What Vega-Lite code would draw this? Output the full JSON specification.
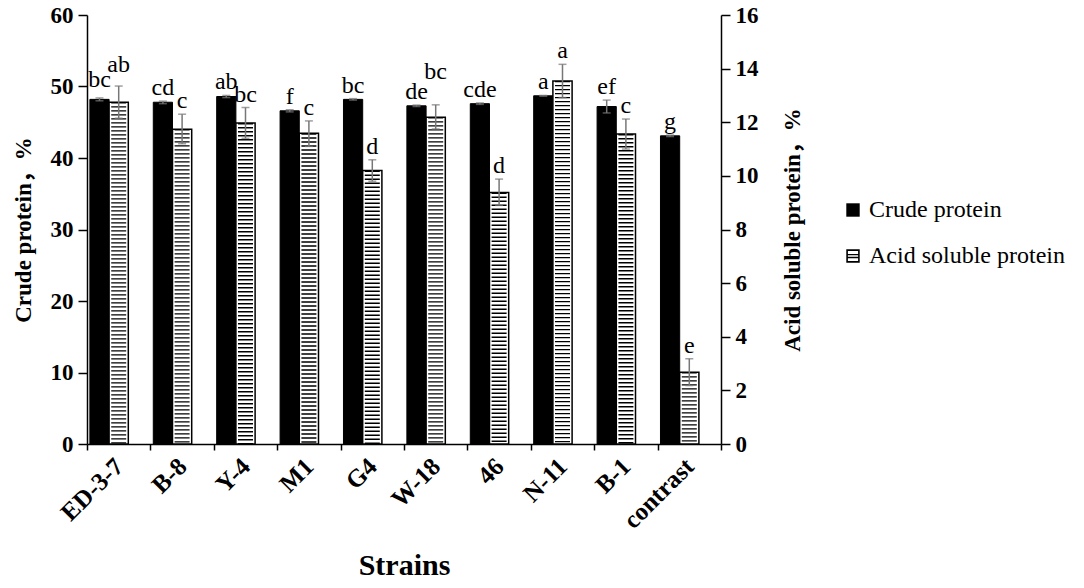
{
  "$schema": "https://vega.github.io/schema/vega-lite/v6.json",
  "width": 634,
  "height": 429,
  "autosize": {"type": "none"},
  "padding": {"left": 87, "top": 15, "right": 363, "bottom": 144},
  "background": "white",
  "config": {
    "view": {"stroke": null},
    "font": "Liberation Serif",
    "axis": {
      "domainColor": "black", "domainWidth": 1.5, "tickColor": "black", "tickWidth": 1.5,
      "grid": false, "labelFont": "Liberation Serif", "labelFontWeight": "bold", "labelFontSize": 23,
      "labelColor": "black", "titleFont": "Liberation Serif, Noto Sans CJK SC", "titleFontWeight": "bold",
      "titleFontSize": 23, "titleColor": "black"
    }
  },
  "datasets": {
    "d": [
      {"strain": "ED-3-7", "series": "Crude protein", "value": 48.2, "lo": 48.0, "hi": 48.4, "label": "bc"},
      {"strain": "B-8", "series": "Crude protein", "value": 47.8, "lo": 47.6, "hi": 47.95, "label": "cd"},
      {"strain": "Y-4", "series": "Crude protein", "value": 48.6, "lo": 48.45, "hi": 48.75, "label": "ab"},
      {"strain": "M1", "series": "Crude protein", "value": 46.6, "lo": 46.45, "hi": 46.75, "label": "f"},
      {"strain": "G4", "series": "Crude protein", "value": 48.2, "lo": 48.1, "hi": 48.3, "label": "bc"},
      {"strain": "W-18", "series": "Crude protein", "value": 47.3, "lo": 47.2, "hi": 47.4, "label": "de"},
      {"strain": "46", "series": "Crude protein", "value": 47.6, "lo": 47.5, "hi": 47.7, "label": "cde"},
      {"strain": "N-11", "series": "Crude protein", "value": 48.7, "lo": 48.65, "hi": 48.75, "label": "a"},
      {"strain": "B-1", "series": "Crude protein", "value": 47.2, "lo": 46.3, "hi": 48.1, "label": "ef"},
      {"strain": "contrast", "series": "Crude protein", "value": 43.1, "lo": 43.0, "hi": 43.2, "label": "g"},
      {"strain": "ED-3-7", "series": "Acid soluble protein", "value": 12.75, "lo": 12.15, "hi": 13.35, "label": "ab"},
      {"strain": "B-8", "series": "Acid soluble protein", "value": 11.74, "lo": 11.2, "hi": 12.3, "label": "c"},
      {"strain": "Y-4", "series": "Acid soluble protein", "value": 11.97, "lo": 11.4, "hi": 12.55, "label": "bc"},
      {"strain": "M1", "series": "Acid soluble protein", "value": 11.59, "lo": 11.1, "hi": 12.05, "label": "c"},
      {"strain": "G4", "series": "Acid soluble protein", "value": 10.2, "lo": 9.8, "hi": 10.6, "label": "d"},
      {"strain": "W-18", "series": "Acid soluble protein", "value": 12.19, "lo": 11.75, "hi": 12.65, "label": "bc"},
      {"strain": "46", "series": "Acid soluble protein", "value": 9.38, "lo": 8.9, "hi": 9.88, "label": "d"},
      {"strain": "N-11", "series": "Acid soluble protein", "value": 13.54, "lo": 12.92, "hi": 14.16, "label": "a"},
      {"strain": "B-1", "series": "Acid soluble protein", "value": 11.56, "lo": 11.0, "hi": 12.12, "label": "c"},
      {"strain": "contrast", "series": "Acid soluble protein", "value": 2.68, "lo": 2.18, "hi": 3.18, "label": "e"}
    ]
  },
  "data": {"name": "d"},
  "encoding": {
    "x": {
      "field": "strain", "type": "nominal", "sort": null,
      "scale": {"domain": ["ED-3-7", "B-8", "Y-4", "M1", "G4", "W-18", "46", "N-11", "B-1", "contrast"], "paddingInner": 0, "paddingOuter": 0},
      "axis": {
        "title": "Strains", "titleFontSize": 30, "titleY": 121, "titleBaseline": "middle",
        "labelAngle": -45, "labelAlign": "right", "labelBaseline": "middle", "labelPadding": 12,
        "tickBand": "extent", "tickSize": 6, "labelFontSize": 25
      }
    },
    "xOffset": {
      "field": "series", "type": "nominal",
      "scale": {"domain": ["Crude protein", "Acid soluble protein", "blank"], "paddingInner": 0, "paddingOuter": 0.15}
    }
  },
  "layer": [
    {
      "layer": [
        {
          "transform": [{"filter": "datum.series === 'Crude protein'"}],
          "mark": {"type": "bar", "fill": "black", "stroke": "black", "strokeWidth": 1},
          "encoding": {
            "y": {
              "field": "value", "type": "quantitative", "title": "Crude protein，%",
              "scale": {"domain": [0, 60], "nice": false},
              "axis": {"orient": "left", "values": [0, 10, 20, 30, 40, 50, 60], "tickSize": 9, "labelPadding": 5, "titleX": -64, "titleAngle": -90, "titleBaseline": "middle", "titleAlign": "center"}
            }
          }
        },
        {
          "mark": {"type": "point", "filled": true, "color": "black", "opacity": 0, "size": 1},
          "encoding": {
            "y": {"datum": 0, "type": "quantitative"},
            "shape": {
              "field": "series", "type": "nominal",
              "scale": {"domain": ["Crude protein", "Acid soluble protein"], "range": ["square", "M-1,-1H1V1H-1Z M-0.76,-0.76V0.76H0.76V-0.76Z M-0.76,-0.3H0.76V-0.1H-0.76Z M-0.76,0.12H0.76V0.32H-0.76Z"]},
              "legend": {
                "title": null, "orient": "none", "legendX": 754, "legendY": 183, "padding": 0,
                "symbolSize": 180, "symbolOpacity": 1, "symbolFillColor": "black", "symbolStrokeWidth": 0,
                "labelFont": "Liberation Serif", "labelFontSize": 24, "labelColor": "black", "labelLimit": 300,
                "labelOffset": 4, "rowPadding": 22
              }
            }
          }
        },
        {
          "transform": [{"filter": "datum.series === 'Crude protein'"}],
          "mark": {"type": "rule", "color": "#777777", "strokeWidth": 1.5},
          "encoding": {
            "y": {"field": "lo", "type": "quantitative", "title": "Crude protein，%"},
            "y2": {"field": "hi"}
          }
        },
        {
          "transform": [{"filter": "datum.series === 'Crude protein'"}],
          "mark": {"type": "tick", "color": "#777777", "size": 8, "thickness": 1.5},
          "encoding": {"y": {"field": "lo", "type": "quantitative", "title": "Crude protein，%"}}
        },
        {
          "transform": [{"filter": "datum.series === 'Crude protein'"}],
          "mark": {"type": "tick", "color": "#777777", "size": 8, "thickness": 1.5},
          "encoding": {"y": {"field": "hi", "type": "quantitative", "title": "Crude protein，%"}}
        },
        {
          "transform": [{"filter": "datum.series === 'Crude protein' && datum.strain !== 'ED-3-7'"}],
          "mark": {"type": "text", "font": "Liberation Serif", "fontSize": 24, "baseline": "alphabetic", "dy": -6, "color": "black"},
          "encoding": {
            "y": {"field": "hi", "type": "quantitative", "title": "Crude protein，%"},
            "text": {"field": "label"}
          }
        },
        {
          "transform": [{"filter": "datum.series === 'Crude protein' && datum.strain === 'ED-3-7'"}],
          "mark": {"type": "text", "font": "Liberation Serif", "fontSize": 24, "baseline": "alphabetic", "dy": -11, "color": "black"},
          "encoding": {
            "y": {"field": "hi", "type": "quantitative", "title": "Crude protein，%"},
            "text": {"field": "label"}
          }
        }
      ]
    },
    {
      "transform": [{"filter": "datum.series === 'Acid soluble protein'"}],
      "layer": [
        {
          "mark": {"type": "bar", "fill": "white", "stroke": "black", "strokeWidth": 1.5},
          "encoding": {
            "y": {
              "field": "value", "type": "quantitative", "title": "Acid soluble protein，%",
              "scale": {"domain": [0, 16], "nice": false},
              "axis": {"orient": "right", "values": [0, 2, 4, 6, 8, 10, 12, 14, 16], "tickSize": 9, "labelPadding": 5, "titleX": 71, "titleAngle": -90, "titleBaseline": "middle", "titleAlign": "center"}
            }
          }
        },
        {
          "mark": {"type": "rule", "color": "black", "strokeWidth": 15, "strokeDash": [1.4, 2.6], "strokeCap": "butt"},
          "encoding": {
            "y": {"field": "value", "type": "quantitative", "title": "Acid soluble protein，%"},
            "y2": {"datum": 0}
          }
        },
        {
          "mark": {"type": "rule", "color": "#777777", "strokeWidth": 1.5},
          "encoding": {
            "y": {"field": "lo", "type": "quantitative", "title": "Acid soluble protein，%"},
            "y2": {"field": "hi"}
          }
        },
        {
          "mark": {"type": "tick", "color": "#777777", "size": 8, "thickness": 1.5},
          "encoding": {"y": {"field": "lo", "type": "quantitative", "title": "Acid soluble protein，%"}}
        },
        {
          "mark": {"type": "tick", "color": "#777777", "size": 8, "thickness": 1.5},
          "encoding": {"y": {"field": "hi", "type": "quantitative", "title": "Acid soluble protein，%"}}
        },
        {
          "transform": [{"filter": "datum.strain !== 'ED-3-7' && datum.strain !== 'W-18'"}],
          "mark": {"type": "text", "font": "Liberation Serif", "fontSize": 24, "baseline": "alphabetic", "dy": -6, "color": "black"},
          "encoding": {
            "y": {"field": "hi", "type": "quantitative", "title": "Acid soluble protein，%"},
            "text": {"field": "label"}
          }
        },
        {
          "transform": [{"filter": "datum.strain === 'ED-3-7'"}],
          "mark": {"type": "text", "font": "Liberation Serif", "fontSize": 24, "baseline": "alphabetic", "dy": -14, "color": "black"},
          "encoding": {
            "y": {"field": "hi", "type": "quantitative", "title": "Acid soluble protein，%"},
            "text": {"field": "label"}
          }
        },
        {
          "transform": [{"filter": "datum.strain === 'W-18'"}],
          "mark": {"type": "text", "font": "Liberation Serif", "fontSize": 24, "baseline": "alphabetic", "dy": -26, "color": "black"},
          "encoding": {
            "y": {"field": "hi", "type": "quantitative", "title": "Acid soluble protein，%"},
            "text": {"field": "label"}
          }
        }
      ]
    }
  ],
  "resolve": {"scale": {"y": "independent"}, "axis": {"y": "independent"}}
}
